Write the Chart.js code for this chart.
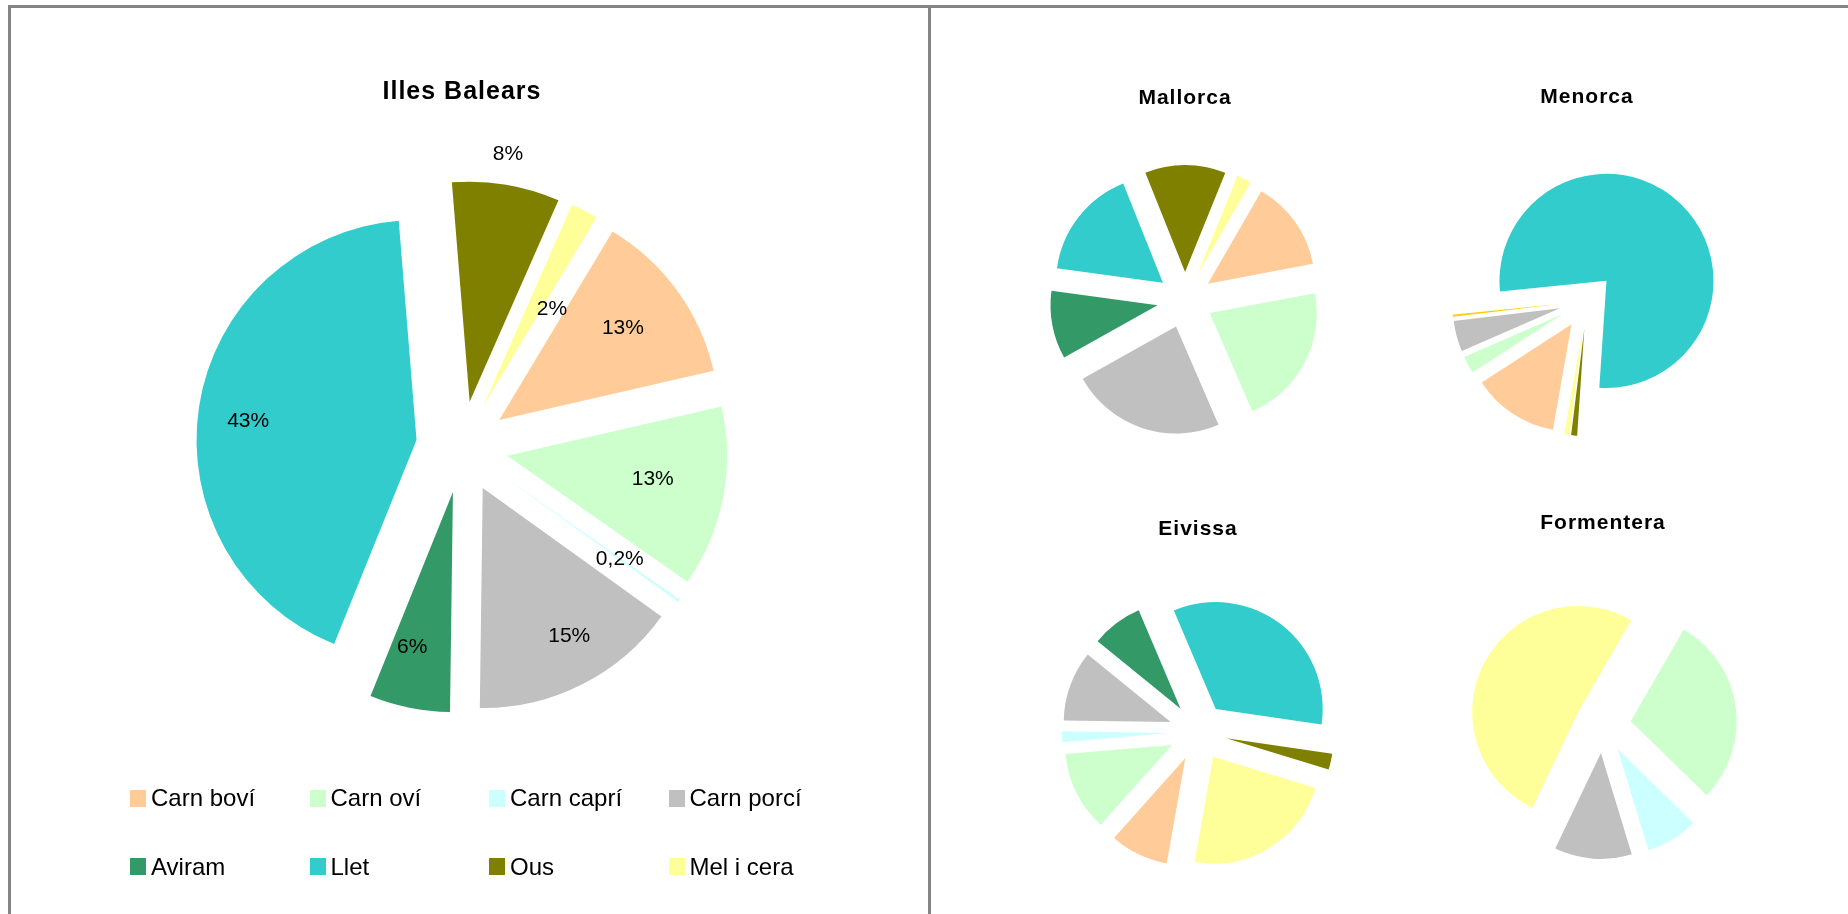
<!DOCTYPE html>
<html>
<head>
<meta charset="utf-8">
<title>Illes Balears</title>
<script src="https://cdn.jsdelivr.net/npm/chart.js@4.4.1/dist/chart.umd.min.js"></script>
<style>
    html, body { margin: 0; padding: 0; background: #fff; overflow: hidden; }
    body { width: 1848px; height: 914px; position: relative; font-family: "Liberation Sans", Arial, sans-serif; }
    .panel { position: absolute; box-sizing: border-box; border: 3px solid #858585; border-bottom: none; }
    #leftPanel { left: 8px; top: 5px; width: 923px; height: 930px; }
    #rightPanel { left: 928px; top: 5px; width: 940px; height: 930px; border-right: none; }
    .holder { position: absolute; }
    #legend {
        position: absolute; left: 130px; top: 781px;
        display: grid; grid-template-columns: repeat(4, 179.5px); row-gap: 34.5px;
    }
    .item { display: flex; align-items: center; height: 34px; font-size: 24px; color: #000; white-space: nowrap; }
    .swatch { width: 16px; height: 17px; margin-right: 5px; flex: none; }
</style>
</head>
<body>
<div class="panel" id="leftPanel"></div>
<div class="panel" id="rightPanel"></div>

<div class="holder" id="hBalears"><canvas id="cBalears"></canvas></div>
<div class="holder" id="hMallorca"><canvas id="cMallorca"></canvas></div>
<div class="holder" id="hMenorca"><canvas id="cMenorca"></canvas></div>
<div class="holder" id="hEivissa"><canvas id="cEivissa"></canvas></div>
<div class="holder" id="hFormentera"><canvas id="cFormentera"></canvas></div>
<div id="legend"></div>

<script>
/**
 * Producció ramadera per illes (pastissos explotats)
 */

const categories = ['Carn boví', 'Carn oví', 'Carn caprí', 'Carn porcí', 'Aviram', 'Llet', 'Ous', 'Mel i cera'];

// percentatges llegits del gràfic
const illesBalears = [12.8, 13.3, 0.2, 15.3, 5.9, 42.6, 7.9, 2.0];
const mallorca     = [13.7, 21.5, 0, 23.4, 10.3, 16.8, 12.2, 2.2];
const menorca      = [13.0, 2.6, 0, 4.6, 0.3, 77.2, 0.9, 0.8];
const eivissa      = [8.8, 12.0, 1.6, 10.6, 7.7, 33.6, 2.4, 23.0];
const formentera   = [0, 29.0, 8.0, 11.8, 0, 0, 0, 51.3];

const colors = ['#FFCC99', '#CCFFCC', '#CCFFFF', '#C0C0C0', '#339966', '#33CCCC', '#808000', '#FFFF99'];
// a Menorca la llesca d'aviram surt en groc
const menorcaColors = colors.map((c, i) => i === 4 ? '#FFCC00' : c);

Chart.defaults.font.family = '"Liberation Sans", Arial, sans-serif';
Chart.defaults.color = '#000';

// wider letter spacing for the titles only
const titleSpacing = {
    id: 'titleSpacing',
    beforeDraw(chart) { chart.ctx.letterSpacing = '1px'; },
    beforeDatasetsDraw(chart) { chart.ctx.letterSpacing = '0px'; }
};

// draws every slice pushed out from the centre (Excel "exploded" pie)
const explodePlugin = {
    id: 'explode',
    beforeDatasetDraw(chart, args, opts) {
        const ctx = chart.ctx;
        const d = opts.distance || 0;
        args.meta.data.forEach(arc => {
            const mid = (arc.startAngle + arc.endAngle) / 2;
            ctx.save();
            ctx.translate(Math.cos(mid) * d, Math.sin(mid) * d);
            arc.draw(ctx);
            ctx.restore();
        });
        return false;
    }
};

const sliceLabels = {
    id: 'sliceLabels',
    afterDatasetsDraw(chart, args, opts) {
        if (!opts.show) return;
        const ctx = chart.ctx;
        const values = chart.data.datasets[0].data;
        const total = values.reduce((a, b) => a + b, 0);
        const d = chart.options.plugins.explode.distance || 0;
        ctx.save();
        ctx.font = opts.font;
        ctx.fillStyle = '#000';
        ctx.textAlign = 'center';
        ctx.textBaseline = 'middle';
        chart.getDatasetMeta(0).data.forEach((arc, i) => {
            if (!values[i]) return;
            const pct = values[i] / total * 100;
            const text = pct < 1 ? pct.toFixed(1).replace('.', ',') + '%' : Math.round(pct) + '%';
            const mid = (arc.startAngle + arc.endAngle) / 2;
            const vx = arc.x + Math.cos(mid) * d;
            const vy = arc.y + Math.sin(mid) * d;
            const a = mid + (opts.angleShift[i] || 0) * Math.PI / 180;
            const r = arc.outerRadius * opts.radius[i];
            ctx.fillText(text, vx + Math.cos(a) * r, vy + Math.sin(a) * r);
        });
        ctx.restore();
    }
};

function makePie(id, title, values, bg, cfg) {
    const holder = document.getElementById('h' + id);
    const lh = cfg.titleSize * 1.2;
    const padTop = cfg.titleY - cfg.top - lh / 2;
    const h = 2 * (cfg.cy - cfg.top) - padTop - lh;
    holder.style.left = (cfg.cx - cfg.width / 2) + 'px';
    holder.style.top = cfg.top + 'px';
    holder.style.width = cfg.width + 'px';
    holder.style.height = h + 'px';

    return new Chart(document.getElementById('c' + id), {
        type: 'pie',
        data: {
            labels: categories,
            datasets: [{
                data: values,
                backgroundColor: bg,
                borderWidth: 0,
                radius: cfg.radius
            }]
        },
        options: {
            responsive: true,
            maintainAspectRatio: false,
            animation: false,
            events: [],
            rotation: cfg.rotation,
            layout: { padding: 0 },
            plugins: {
                legend: { display: false },
                tooltip: { enabled: false },
                title: {
                    display: true,
                    text: title,
                    color: '#000',
                    font: { size: cfg.titleSize, weight: 'bold' },
                    padding: { top: padTop, bottom: 0 }
                },
                explode: { distance: cfg.explode },
                sliceLabels: cfg.labels || { show: false }
            }
        },
        plugins: [titleSpacing, explodePlugin, sliceLabels]
    });
}

const mainChart = makePie('Balears', 'Illes Balears', illesBalears, colors, {
    cx: 462, cy: 447, top: 20, width: 700, titleY: 92, titleSize: 25,
    radius: 220, explode: 46, rotation: 31,
    labels: {
        show: true,
        font: '21px "Liberation Sans", Arial, sans-serif',
        radius: [0.70, 0.67, 0.67, 0.78, 0.73, 0.77, 1.14, 0.54],
        angleShift: [-0.6, -2, 0, -3.5, 3.3, -2.4, -0.8, 8]
    }
});

makePie('Mallorca', 'Mallorca', mallorca, colors, {
    cx: 1185, cy: 300, top: 20, width: 320, titleY: 98, titleSize: 21,
    radius: 107, explode: 28, rotation: 30
});
makePie('Menorca', 'Menorca', menorca, menorcaColors, {
    cx: 1587, cy: 301, top: 20, width: 320, titleY: 97, titleSize: 21,
    radius: 107, explode: 28, rotation: 190
});
makePie('Eivissa', 'Eivissa', eivissa, colors, {
    cx: 1198, cy: 732, top: 450, width: 320, titleY: 529, titleSize: 21,
    radius: 107, explode: 29, rotation: 190
});
makePie('Formentera', 'Formentera', formentera, colors, {
    cx: 1603, cy: 725, top: 450, width: 320, titleY: 523, titleSize: 21,
    radius: 106, explode: 28, rotation: 30
});

// HTML legend in a 4 x 2 grid, built from the main chart
const legendItems = mainChart.options.plugins.legend.labels.generateLabels(mainChart);
document.getElementById('legend').innerHTML = legendItems.map(item => `
    <div class="item"><span class="swatch" style="background:${item.fillStyle}"></span>${item.text}</div>
`).join('');
</script>
</body>
</html>
